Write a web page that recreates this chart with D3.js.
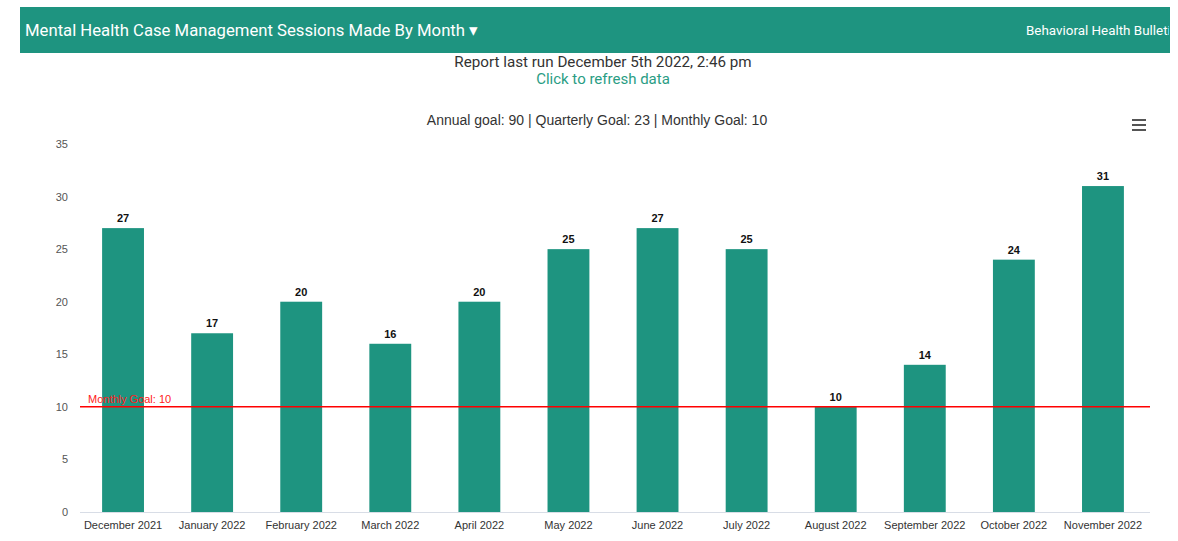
<!DOCTYPE html>
<html>
<head>
<meta charset="utf-8">
<script src="https://cdn.jsdelivr.net/npm/d3@7"></script>
<style>
  body { margin: 0; background: #fff; font-family: "Liberation Sans", Arial, sans-serif; }
  svg { display: block; }
</style>
</head>
<body>
<svg id="chart" width="1178" height="541"></svg>
<script>
const months = ["December 2021", "January 2022", "February 2022", "March 2022", "April 2022", "May 2022",
  "June 2022", "July 2022", "August 2022", "September 2022", "October 2022", "November 2022"];
const sessions = [27, 17, 20, 16, 20, 25, 27, 25, 10, 14, 24, 31];
const yTicks = [0, 5, 10, 15, 20, 25, 30, 35];
const monthlyGoal = 10;

const teal = "#1e9480";
const svg = d3.select("#chart");

// header bar
svg.append("rect").attr("x", 20).attr("y", 7).attr("width", 1150).attr("height", 46).attr("fill", teal);
svg.append("text").attr("x", 25).attr("y", 36)
  .attr("fill", "#fff").attr("font-family", "Roboto, 'Open Sans', sans-serif").attr("font-size", 16.7)
  .text("Mental Health Case Management Sessions Made By Month \u25BE");
svg.append("clipPath").attr("id", "hdrclip").append("rect").attr("x", 20).attr("y", 7).attr("width", 1149).attr("height", 46);
svg.append("text").attr("x", 1026).attr("y", 35).attr("clip-path", "url(#hdrclip)")
  .attr("fill", "#fff").attr("font-family", "Roboto, 'Open Sans', sans-serif").attr("font-size", 13.4)
  .text("Behavioral Health Bulletin");

svg.append("text").attr("x", 603).attr("y", 67).attr("text-anchor", "middle")
  .attr("fill", "#333").attr("font-family", "Roboto, 'Open Sans', sans-serif").attr("font-size", 15.2)
  .text("Report last run December 5th 2022, 2:46 pm");
svg.append("text").attr("x", 603).attr("y", 84).attr("text-anchor", "middle")
  .attr("fill", "#2a9d84").attr("font-family", "Roboto, 'Open Sans', sans-serif").attr("font-size", 15)
  .text("Click to refresh data");

svg.append("text").attr("x", 597).attr("y", 125).attr("text-anchor", "middle")
  .attr("fill", "#333").attr("font-size", 14)
  .text("Annual goal: 90 | Quarterly Goal: 23 | Monthly Goal: 10");

// hamburger
[0, 5, 10].forEach(o => svg.append("rect").attr("x", 1132).attr("y", 119 + o).attr("width", 14).attr("height", 2).attr("fill", "#555"));

const x = d3.scaleBand().domain(months).range([78.5, 1147.5]).paddingInner(0.53).paddingOuter(0.265);
const y = d3.scaleLinear().domain([0, 35]).range([512, 144]);

// y labels
const yAxis = svg.append("g").attr("transform", "translate(68,0)")
  .call(d3.axisLeft(y).tickValues(yTicks).tickSize(0).tickPadding(0));
yAxis.select(".domain").remove();
yAxis.selectAll("text").attr("fill", "#555").attr("font-size", 11).attr("font-family", "'Liberation Sans', Arial, sans-serif");

// bars
svg.append("g").selectAll("rect").data(sessions).join("rect")
  .attr("x", (d, i) => x(months[i]))
  .attr("y", d => y(d))
  .attr("width", x.bandwidth())
  .attr("height", d => y(0) - y(d))
  .attr("fill", teal);

svg.append("g").selectAll("text").data(sessions).join("text")
  .attr("x", (d, i) => x(months[i]) + x.bandwidth() / 2)
  .attr("y", d => y(d) - 6)
  .attr("text-anchor", "middle").attr("font-size", 11).attr("font-weight", "bold").attr("fill", "#111")
  .text(d => d);

// x axis
const xAxis = svg.append("g").attr("transform", "translate(0,512)")
  .call(d3.axisBottom(x).tickSize(0).tickPadding(9));
xAxis.select(".domain").attr("stroke", "#d8dde6").attr("d", "M80,0.5H1150");
xAxis.selectAll("text").attr("fill", "#333").attr("font-size", 11).attr("font-family", "'Liberation Sans', Arial, sans-serif");

// goal line
svg.append("line").attr("x1", 80).attr("x2", 1150).attr("y1", y(monthlyGoal)).attr("y2", y(monthlyGoal))
  .attr("stroke", "#ff0000").attr("stroke-width", 1.5);
svg.append("text").attr("x", 88).attr("y", y(monthlyGoal) - 4)
  .attr("fill", "#ff2020").attr("font-size", 11).text("Monthly Goal: " + monthlyGoal);
</script>
</body>
</html>
